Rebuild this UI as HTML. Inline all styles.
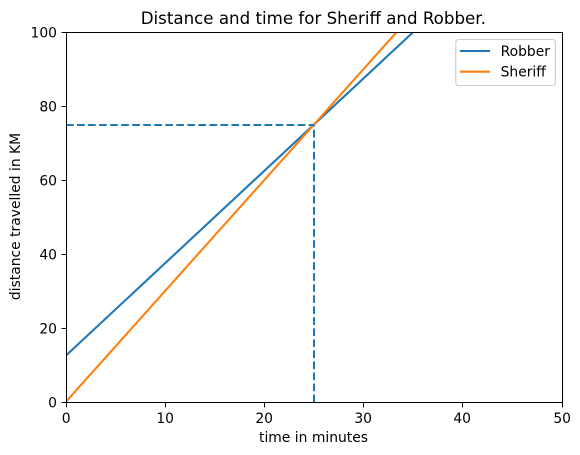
<!DOCTYPE html>
<html>
<head>
<meta charset="utf-8">
<style>
html,body{margin:0;padding:0;background:#fff;width:580px;height:455px;overflow:hidden}
svg{display:block}
text{font-family:"DejaVu Sans","Liberation Sans",sans-serif;fill:#000}
</style>
</head>
<body>
<svg id="chart" width="580" height="455" viewBox="0 0 580 455" xmlns="http://www.w3.org/2000/svg"></svg>
<script>
const xTickLabels = [0, 10, 20, 30, 40, 50];
const yTickLabels = [0, 20, 40, 60, 80, 100];
const timeMinutes = [0, 50];
const robberKm = [12.5, 137.5];
const sheriffKm = [0, 150];
const meetTime = [25];
const meetDistance = [75];
const seriesNames = ['Robber', 'Sheriff'];
const xDomain = [0, 50];
const yDomain = [0, 100];

const NS = 'http://www.w3.org/2000/svg';
const svg = document.getElementById('chart');
const L = 66, R = 562, T = 32.6, B = 402.2;
const FL = 66.5, FR = 562.5, FT = 32.5, FB = 402.5;
const xFrac = v => (v - xDomain[0]) / (xDomain[1] - xDomain[0]);
const yFrac = v => (v - yDomain[0]) / (yDomain[1] - yDomain[0]);
const xs = v => L + xFrac(v) * (R - L);
const ys = v => B - yFrac(v) * (B - T);
const lx = v => xs(v) - 0.1;
const ly = v => ys(v) - 0.4;
const snap = p => Math.floor(p) + 0.5;
function mk(tag, attrs, parent) {
  const el = document.createElementNS(NS, tag);
  for (const k in attrs) el.setAttribute(k, attrs[k]);
  (parent || svg).appendChild(el);
  return el;
}

const defs = mk('defs', {});
const clip = mk('clipPath', {id: 'plot-clip'}, defs);
mk('rect', {x: FL, y: FT, width: FR - FL, height: FB - FT}, clip);

const plot = mk('g', {'clip-path': 'url(#plot-clip)'});



const linePts = vals => timeMinutes.map((t, i) => lx(t) + ',' + ly(vals[i])).join(' ');
const robberLine = mk('polyline', {points: linePts(robberKm), fill: 'none', stroke: '#1f77b4', 'stroke-width': 2.08}, plot);


const sheriffLine = mk('polyline', {points: linePts(sheriffKm), fill: 'none', stroke: '#ff7f0e', 'stroke-width': 2.08}, plot);



const guideX = Math.round(xs(meetTime[0]));
const guideY = Math.round(ys(meetDistance[0]));
const hDash = mk('line', {x1: xs(xDomain[0]), y1: guideY, x2: guideX, y2: guideY, stroke: '#1f77b4', 'stroke-width': 2, 'stroke-dasharray': '7.7 3.33'}, plot);


const vDash = mk('line', {x1: guideX, y1: ys(yDomain[0]), x2: guideX, y2: guideY, stroke: '#1f77b4', 'stroke-width': 2, 'stroke-dasharray': '7.7 3.33'}, plot);



const frame = mk('rect', {x: FL, y: FT, width: FR - FL, height: FB - FT, fill: 'none', stroke: '#000', 'stroke-width': 1});



xTickLabels.forEach(v => {
  const x = snap(xs(v));
  const tick = mk('line', {x1: x, y1: FB, x2: x, y2: FB + 4.9, stroke: '#000', 'stroke-width': 1});
  
  
  const label = mk('text', {x: x - 0.3, y: 423, 'font-size': 13.89, 'text-anchor': 'middle'});
  
  
  label.textContent = v;
});
yTickLabels.forEach(v => {
  const y = snap(ys(v));
  const tick = mk('line', {x1: FL - 4.9, y1: y, x2: FL, y2: y, stroke: '#000', 'stroke-width': 1});
  
  
  const label = mk('text', {x: FL - 9.5, y: y + 5, 'font-size': 13.89, 'text-anchor': 'end'});
  
  
  label.textContent = v;
});

const title = mk('text', {x: 313.3, y: 24, 'font-size': 16.67, 'text-anchor': 'middle'});


title.textContent = 'Distance and time for Sheriff and Robber.';

const xTitle = mk('text', {x: 313.5, y: 442, 'font-size': 13.89, 'text-anchor': 'middle'});


xTitle.textContent = 'time in minutes';

const yTitle = mk('text', {x: 0, y: 0, 'font-size': 13.89, 'text-anchor': 'middle', transform: 'translate(20,216.5) rotate(-90)'});


yTitle.textContent = 'distance travelled in KM';

const legend = mk('g', {});


const legendBox = mk('rect', {x: 455.8, y: 39.5, width: 99.6, height: 46, rx: 2.8, ry: 2.8, fill: '#fff', 'fill-opacity': 0.8, stroke: '#ccc', 'stroke-width': 1.1}, legend);


const legendColors = ['#1f77b4', '#ff7f0e'];
seriesNames.forEach((name, i) => {
  const y = 51 + i * 20.7;
  const swatch = mk('line', {x1: 460, y1: y, x2: 490, y2: y, stroke: legendColors[i], 'stroke-width': 2.08}, legend);
  
  
  const label = mk('text', {x: 500.6, y: y + 5, 'font-size': 13.89}, legend);
  
  
  label.textContent = name;
});
</script>
</body>
</html>
